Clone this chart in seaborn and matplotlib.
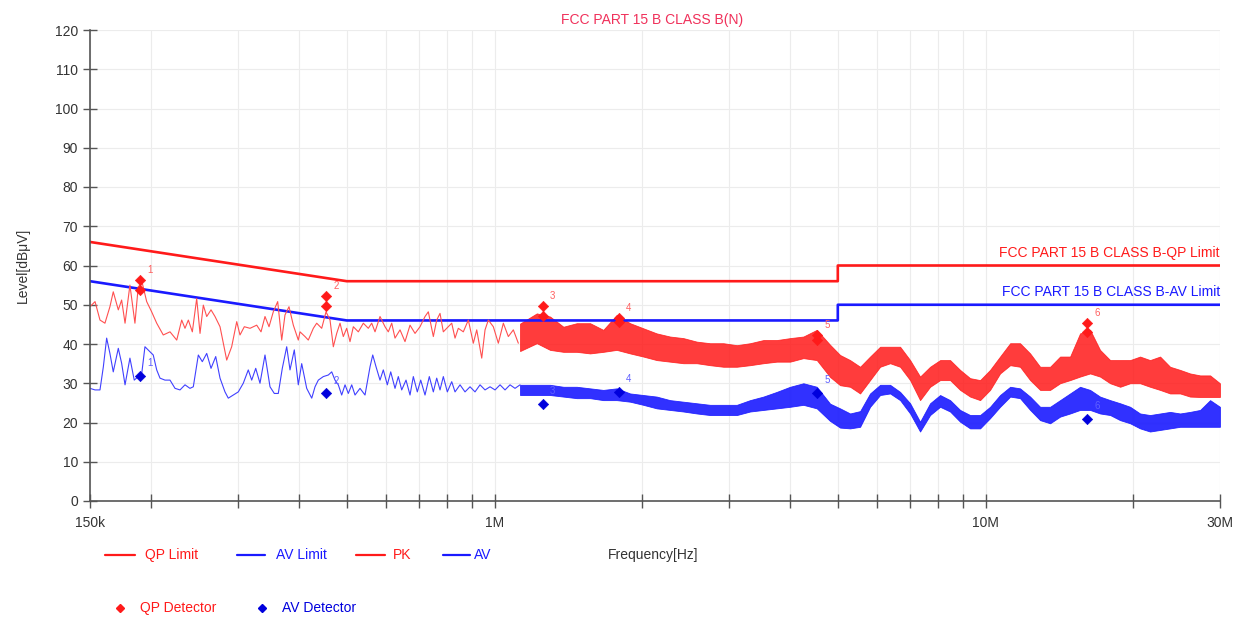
import matplotlib
matplotlib.use("Agg")
import matplotlib.pyplot as plt
from matplotlib.lines import Line2D
from matplotlib.ticker import FixedLocator, NullFormatter
import seaborn as sns

# limit lines (MHz, dBuV)
qp_limit_freq = [0.15, 0.5, 5.0, 5.0, 30.0]
qp_limit_level = [66, 56, 56, 60, 60]
av_limit_freq = [0.15, 0.5, 5.0, 5.0, 30.0]
av_limit_level = [56, 46, 46, 50, 50]

# PK trace, single sweep below ~1.1 MHz
pk_freq = [0.1500, 0.1536, 0.1572, 0.1609, 0.1647, 0.1673, 0.1713, 0.1740, 0.1768, 0.1809,
           0.1852, 0.1881, 0.1917, 0.1957, 0.2003, 0.2051, 0.2115, 0.2183, 0.2253, 0.2306,
           0.2342, 0.2379, 0.2424, 0.2474, 0.2513, 0.2552, 0.2593, 0.2646, 0.2696, 0.2760,
           0.2848, 0.2915, 0.2985, 0.3031, 0.3093, 0.3177, 0.3278, 0.3345, 0.3408, 0.3473,
           0.3543, 0.3617, 0.3686, 0.3743, 0.3814, 0.3892, 0.3984, 0.4016, 0.4111, 0.4175,
           0.4275, 0.4343, 0.4446, 0.4537, 0.4623, 0.4695, 0.4770, 0.4845, 0.4920, 0.4999,
           0.5077, 0.5157, 0.5279, 0.5404, 0.5532, 0.5621, 0.5709, 0.5844, 0.5983, 0.6076,
           0.6174, 0.6270, 0.6419, 0.6571, 0.6727, 0.6887, 0.7050, 0.7217, 0.7330, 0.7504,
           0.7624, 0.7743, 0.7864, 0.7990, 0.8180, 0.8308, 0.8437, 0.8637, 0.8842, 0.9052,
           0.9198, 0.9416, 0.9563, 0.9712, 0.9942, 1.0178, 1.0420, 1.0667, 1.0920, 1.1179]
pk_level = [49.5, 50.8, 46.1, 45.3, 49.5, 53.3, 48.7, 51.2, 45.3, 55.0,
            45.3, 54.6, 55.5, 50.8, 48.2, 45.3, 42.3, 43.1, 41.0, 46.1,
            44.0, 46.1, 43.1, 51.6, 42.7, 49.9, 47.0, 48.7, 47.0, 44.4,
            35.9, 39.3, 45.7, 42.3, 44.4, 44.0, 44.8, 43.1, 47.0, 44.4,
            48.2, 50.8, 41.0, 47.4, 49.5, 44.8, 41.0, 43.1, 41.9, 41.0,
            44.0, 45.3, 44.0, 48.2, 46.1, 39.3, 42.7, 45.3, 41.9, 44.0,
            40.6, 44.4, 43.1, 45.3, 44.0, 45.3, 43.1, 47.0, 44.4, 43.1,
            45.3, 41.5, 43.6, 40.6, 44.8, 42.7, 44.4, 47.0, 48.2, 41.9,
            46.1, 47.8, 43.1, 44.0, 45.3, 41.5, 44.0, 43.1, 46.1, 40.2,
            43.6, 36.4, 43.6, 46.1, 44.4, 40.2, 45.3, 41.9, 43.6, 40.2]

# AV trace, single sweep below ~1.1 MHz
av_freq = [0.1500, 0.1536, 0.1572, 0.1597, 0.1622, 0.1647, 0.1673, 0.1713, 0.1740, 0.1768,
           0.1809, 0.1846, 0.1881, 0.1912, 0.1941, 0.1988, 0.2018, 0.2051, 0.2083, 0.2132,
           0.2183, 0.2235, 0.2288, 0.2342, 0.2397, 0.2435, 0.2493, 0.2540, 0.2593, 0.2646,
           0.2705, 0.2760, 0.2825, 0.2869, 0.2937, 0.3007, 0.3078, 0.3151, 0.3202, 0.3263,
           0.3329, 0.3408, 0.3489, 0.3560, 0.3627, 0.3696, 0.3773, 0.3832, 0.3910, 0.3984,
           0.4048, 0.4144, 0.4243, 0.4309, 0.4376, 0.4480, 0.4586, 0.4660, 0.4732, 0.4806,
           0.4883, 0.4960, 0.5037, 0.5118, 0.5198, 0.5321, 0.5447, 0.5577, 0.5648, 0.5736,
           0.5844, 0.5935, 0.6048, 0.6145, 0.6270, 0.6368, 0.6470, 0.6602, 0.6727, 0.6832,
           0.6961, 0.7073, 0.7217, 0.7364, 0.7504, 0.7624, 0.7743, 0.7864, 0.8013, 0.8180,
           0.8308, 0.8505, 0.8706, 0.8913, 0.9124, 0.9341, 0.9563, 0.9790, 1.0022, 1.0260,
           1.0503, 1.0752, 1.1007, 1.1269]
av_level = [28.7, 28.3, 28.3, 34.2, 41.5, 37.6, 32.9, 38.9, 35.1, 29.6,
            36.4, 30.8, 31.7, 32.5, 39.3, 38.0, 37.2, 33.4, 31.3, 30.8,
            30.8, 28.7, 28.3, 29.6, 28.7, 29.1, 37.2, 35.5, 37.6, 33.8,
            36.8, 31.3, 27.8, 26.2, 27.0, 27.8, 30.0, 33.4, 30.8, 33.8,
            30.0, 37.2, 29.1, 27.4, 27.4, 33.8, 39.3, 33.4, 38.5, 29.6,
            35.0, 28.7, 26.2, 29.1, 30.8, 31.7, 32.1, 32.9, 30.8, 29.6,
            27.0, 29.6, 27.4, 29.6, 27.0, 28.7, 27.0, 34.2, 37.2, 34.2,
            30.8, 33.4, 29.6, 32.9, 28.7, 31.7, 28.3, 30.8, 27.0, 31.7,
            27.8, 30.8, 27.0, 31.7, 27.8, 31.3, 28.3, 31.7, 27.8, 30.4,
            27.8, 29.6, 27.8, 29.1, 27.8, 29.6, 28.3, 29.1, 28.3, 29.6,
            28.3, 29.6, 28.7, 29.6]

# above ~1.1 MHz the sweeps are so dense they read as a band: envelope per trace
band_freq = [1.127, 1.219, 1.297, 1.381, 1.470, 1.565, 1.665, 1.773, 1.888, 2.009,
             2.139, 2.277, 2.424, 2.581, 2.747, 2.924, 3.114, 3.314, 3.527, 3.756,
             3.998, 4.255, 4.531, 4.822, 5.054, 5.297, 5.551, 5.817, 6.097, 6.389,
             6.696, 7.018, 7.354, 7.707, 8.078, 8.465, 8.872, 9.298, 9.744, 10.21,
             10.70, 11.22, 11.75, 12.32, 12.91, 13.53, 14.18, 14.86, 15.57, 16.32,
             17.10, 17.93, 18.79, 19.69, 20.63, 21.62, 22.66, 23.75, 24.89, 26.08,
             27.34, 28.65, 30.0]
pk_upper = [45.2, 47.8, 47.0, 44.4, 45.3, 45.3, 43.6, 47.4, 45.3, 44.0,
            42.7, 41.9, 41.5, 40.6, 40.2, 40.2, 39.7, 40.2, 41.0, 41.0,
            41.5, 41.9, 43.6, 39.8, 37.2, 35.9, 34.2, 36.8, 39.3, 39.3,
            39.3, 35.9, 31.7, 34.2, 35.9, 35.9, 33.4, 31.3, 30.8, 33.4,
            36.8, 40.2, 40.2, 37.6, 34.2, 34.2, 36.8, 36.8, 42.7, 43.6,
            38.5, 35.9, 35.9, 35.9, 36.8, 35.9, 36.8, 34.2, 33.4, 32.5,
            32.0, 32.0, 30.0]
pk_lower = [38.2, 40.2, 38.5, 38.0, 38.0, 37.6, 38.0, 38.5, 37.6, 36.8,
            35.9, 35.5, 35.1, 35.1, 34.6, 34.2, 34.2, 34.6, 35.1, 35.5,
            35.5, 36.4, 35.9, 31.6, 29.5, 29.1, 27.4, 30.8, 34.2, 35.1,
            34.2, 30.8, 25.7, 29.1, 30.8, 30.8, 28.3, 26.6, 25.7, 28.3,
            32.5, 34.6, 34.2, 30.8, 28.3, 28.3, 30.0, 30.8, 31.7, 32.5,
            31.7, 30.0, 29.1, 30.0, 30.0, 29.1, 28.3, 27.4, 27.4, 26.6,
            26.5, 26.5, 26.5]
av_upper = [29.6, 29.6, 29.6, 29.1, 29.1, 28.7, 28.3, 28.7, 27.4, 27.0,
            26.6, 25.7, 25.3, 24.9, 24.5, 24.5, 24.5, 25.7, 26.6, 27.8,
            29.1, 30.0, 29.1, 24.8, 23.6, 22.3, 22.9, 27.4, 29.6, 29.6,
            27.8, 24.9, 20.2, 24.9, 27.0, 25.7, 23.2, 21.9, 21.9, 24.0,
            27.0, 29.1, 28.7, 26.6, 24.0, 24.0, 25.7, 27.4, 29.1, 28.3,
            26.6, 25.7, 24.9, 24.0, 22.3, 21.9, 22.3, 22.7, 22.3, 22.7,
            23.2, 25.7, 24.0]
av_lower = [27.0, 27.0, 27.0, 26.6, 26.2, 26.2, 25.7, 25.7, 25.3, 24.5,
            23.6, 23.2, 22.8, 22.3, 21.9, 21.9, 21.9, 22.8, 23.2, 23.6,
            24.0, 24.5, 23.6, 20.4, 18.7, 18.5, 18.9, 24.0, 27.0, 27.4,
            25.7, 22.3, 17.7, 21.9, 24.0, 22.8, 20.2, 18.5, 18.5, 21.1,
            24.0, 26.6, 26.2, 23.2, 20.6, 19.8, 21.5, 22.3, 23.2, 23.2,
            22.3, 21.9, 20.6, 19.8, 18.5, 17.7, 18.1, 18.5, 18.9, 18.9,
            18.9, 18.9, 18.9]

# final detector readings
mark_freq = [0.190, 0.454, 1.253, 1.792, 4.537, 16.1]
mark_labels = ["1", "2", "3", "4", "5", "6"]
qp_reading = [56.3, 52.2, 49.7, 46.6, 42.3, 45.4]
pk_reading = [53.8, 49.7, 47.2, 45.5, 41.0, 43.0]
av_reading = [31.9, 27.4, 24.7, 27.8, 27.5, 20.9]

RED = "#ff1a1a"
BLUE = "#1a1aff"
PINK = "#f0305a"

sns.set_theme(style="white")
plt.rcParams["font.family"] = ["Liberation Sans Narrow", "Liberation Sans", "DejaVu Sans"]

fig = plt.figure(figsize=(12.48, 6.25), dpi=100)
ax = fig.add_axes([0.0721, 0.1984, 0.9054, 0.7536])
ax.set_xscale("log")

# limits
sns.lineplot(x=qp_limit_freq, y=qp_limit_level, ax=ax, color=RED, lw=1.9,
             sort=False, estimator=None)
sns.lineplot(x=av_limit_freq, y=av_limit_level, ax=ax, color=BLUE, lw=1.9,
             sort=False, estimator=None)

# traces
sns.lineplot(x=pk_freq, y=pk_level, ax=ax, color="#ff5050", lw=0.8,
             sort=False, estimator=None)
sns.lineplot(x=av_freq, y=av_level, ax=ax, color="#4040ff", lw=0.8,
             sort=False, estimator=None)
ax.fill_between(band_freq, pk_lower, pk_upper, color=RED, alpha=0.85, lw=0.6)
ax.fill_between(band_freq, av_lower, av_upper, color=BLUE, alpha=0.9, lw=0.6)

# detector markers
ax.vlines(mark_freq, pk_reading, qp_reading, color=RED, lw=1.0)
sns.scatterplot(x=mark_freq, y=pk_reading, ax=ax, marker="D", s=28,
                color=RED, edgecolor=RED, zorder=5)
sns.scatterplot(x=mark_freq, y=qp_reading, ax=ax, marker="D", s=28,
                color=RED, edgecolor=RED, zorder=5)
sns.scatterplot(x=mark_freq, y=av_reading, ax=ax, marker="D", s=28,
                color="#0000dd", edgecolor="#0000dd", zorder=5)
for f, q, a, t in zip(mark_freq, qp_reading, av_reading, mark_labels):
    ax.text(f * 1.035, q + 1.2, t, color="#ff6060", fontsize=7, ha="left", va="bottom")
    ax.text(f * 1.035, a + 2.0, t, color="#6060ff", fontsize=7, ha="left", va="bottom")

ax.text(30, 61.5, "FCC PART 15 B CLASS B-QP Limit", color=RED, fontsize=10,
        ha="right", va="bottom")
ax.text(30, 51.5, "FCC PART 15 B CLASS B-AV Limit", color=BLUE, fontsize=10,
        ha="right", va="bottom")

# axes
ax.set_xlim(0.15, 30)
ax.set_ylim(0, 120)
ax.set_yticks(range(0, 121, 10))
ax.xaxis.set_major_locator(FixedLocator([0.15, 1, 10, 30]))
ax.set_xticklabels(["150k", "1M", "10M", "30M"])
ax.xaxis.set_minor_locator(FixedLocator([0.2, 0.3, 0.4, 0.5, 0.6, 0.7, 0.8, 0.9,
                                         2, 3, 4, 5, 6, 7, 8, 9, 20]))
ax.xaxis.set_minor_formatter(NullFormatter())
ax.tick_params(axis="both", which="both", direction="inout", length=10, width=1,
               color="#555555", labelcolor="#333333", labelsize=10, bottom=True, left=True)
ax.tick_params(axis="x", pad=6)
ax.grid(True, which="both", color="#ececec", lw=0.8)
for side in ["top", "right"]:
    ax.spines[side].set_visible(False)
for side in ["left", "bottom"]:
    ax.spines[side].set_color("#555555")
    ax.spines[side].set_linewidth(1.2)
ax.set_xlabel("")
ax.set_ylabel("Level[dBμV]", fontsize=10, color="#333333", labelpad=18)

fig.text(0.5225, 0.968, "FCC PART 15 B CLASS B(N)", color=PINK, fontsize=10,
         ha="center", va="center")

# legend rows under the axes, drawn in figure pixels
W, H = 1248.0, 625.0
row1 = 1 - 555 / H
row2 = 1 - 608 / H
legend_lines = [(105, 135, RED, 145, "QP Limit"), (237, 265, BLUE, 276, "AV Limit"),
                (356, 385, RED, 393, "PK"), (443, 470, BLUE, 474, "AV")]
for x0, x1, c, tx, label in legend_lines:
    fig.add_artist(Line2D([x0 / W, x1 / W], [row1, row1], color=c, lw=1.6))
    fig.text(tx / W, row1, label, color=c, fontsize=10, va="center")
fig.text(608 / W, row1, "Frequency[Hz]", color="#333333", fontsize=10, va="center")
for mx, c, tx, label in [(120, RED, 140, "QP Detector"), (262, "#0000dd", 282, "AV Detector")]:
    fig.add_artist(Line2D([mx / W], [row2], marker="D", markersize=4.5, color=c, lw=0))
    fig.text(tx / W, row2, label, color=c, fontsize=10, va="center")

fig.savefig("out.png", dpi=100)
